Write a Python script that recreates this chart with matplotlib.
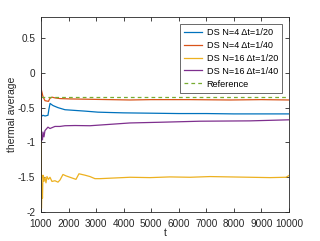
import matplotlib
matplotlib.use("Agg")
import matplotlib.pyplot as plt
from matplotlib.ticker import MultipleLocator

plt.rcParams['font.family'] = ['Liberation Sans', 'DejaVu Sans']
plt.rcParams['axes.unicode_minus'] = False

# data (t, thermal average)
t_blue = [1000, 1036, 1073, 1150, 1254, 1290, 1330, 1436, 1617, 1871, 2234, 2597,
          3069, 3500, 4000, 5000, 6000, 7000, 8000, 9000, 10000]
v_blue = [-0.60, -0.62, -0.61, -0.62, -0.61, -0.52, -0.44, -0.47, -0.50, -0.53, -0.54, -0.55,
          -0.565, -0.57, -0.575, -0.58, -0.585, -0.585, -0.59, -0.59, -0.59]

t_orange = [1000, 1036, 1073, 1145, 1272, 1327, 1399, 1508, 1690, 2053, 2779, 4231,
            5000, 6409, 7861, 9000, 10000]
v_orange = [-0.22, -0.28, -0.34, -0.40, -0.41, -0.365, -0.35, -0.36, -0.37, -0.375, -0.38, -0.39,
            -0.385, -0.385, -0.39, -0.385, -0.39]

t_yellow = [1000, 1018, 1036, 1055, 1073, 1109, 1145, 1182, 1218, 1272, 1327, 1399, 1508,
            1617, 1690, 1799, 1908, 2053, 2198, 2271, 2379, 2597, 2779, 2960, 3142, 3686,
            4231, 4957, 5683, 6409, 7135, 7861, 8587, 9313, 9894, 10000]
v_yellow = [-0.02, -1.95, -1.60, -1.80, -1.47, -1.56, -1.50, -1.58, -1.49, -1.53, -1.50, -1.56, -1.55,
            -1.57, -1.54, -1.46, -1.48, -1.50, -1.52, -1.53, -1.45, -1.47, -1.49, -1.52, -1.52, -1.51,
            -1.50, -1.505, -1.495, -1.50, -1.49, -1.495, -1.50, -1.505, -1.50, -1.475]

t_purple = [1000, 1018, 1036, 1055, 1073, 1109, 1145, 1254, 1327, 1508, 1690, 1871, 2234,
            2779, 3505, 4231, 5320, 6772, 8587, 10000]
v_purple = [-0.03, -0.98, -0.90, -0.96, -0.85, -0.92, -0.83, -0.78, -0.80, -0.77, -0.77, -0.76, -0.757,
            -0.76, -0.74, -0.72, -0.71, -0.695, -0.69, -0.675]

ref_value = -0.35

labels = ['DS N=4 \u0394t=1/20', 'DS N=4 \u0394t=1/40',
          'DS N=16 \u0394t=1/20', 'DS N=16 \u0394t=1/40', 'Reference']

fig = plt.figure(figsize=(3.2, 2.41), dpi=100)
ax = fig.add_axes([0.128, 0.120, 0.775, 0.809])

lw = 0.9
ax.plot(t_blue, v_blue, color='#0072BD', lw=lw, label=labels[0])
ax.plot(t_orange, v_orange, color='#D95319', lw=lw, label=labels[1])
ax.plot(t_yellow, v_yellow, color='#EDB120', lw=lw, label=labels[2])
ax.plot(t_purple, v_purple, color='#7E2F8E', lw=lw, label=labels[3])
ax.plot([1000, 10000], [ref_value, ref_value], color='#77AC30', lw=lw,
        ls=(0, (3, 2.5)), label=labels[4])

ax.set_xlim(1000, 10000)
ax.set_ylim(-2, 0.8)
ax.xaxis.set_major_locator(MultipleLocator(1000))
yt = [-2, -1.5, -1, -0.5, 0, 0.5]
ax.set_yticks(yt)
ax.set_yticklabels(['-2', '-1.5', '-1', '-0.5', '0', '0.5'])

for s in ax.spines.values():
    s.set_color('#262626')
    s.set_linewidth(0.6)
ax.tick_params(direction='in', length=3, width=0.6, top=True, right=True,
               labelsize=7.2, colors='#262626')
ax.tick_params(axis='x', pad=5)
ax.tick_params(axis='y', pad=4)

ax.set_xlabel('t', fontsize=7.5, color='#262626', labelpad=-1)
ax.set_ylabel('thermal average', fontsize=7.5, color='#262626', labelpad=1)

leg = ax.legend(loc='upper right', fontsize=6.6, handlelength=2.0, handletextpad=0.5,
                labelspacing=0.42, borderpad=0.45, borderaxespad=0.75, fancybox=False)
leg.get_frame().set_edgecolor('#262626')
leg.get_frame().set_linewidth(0.6)

fig.savefig('out.png', dpi=100)
